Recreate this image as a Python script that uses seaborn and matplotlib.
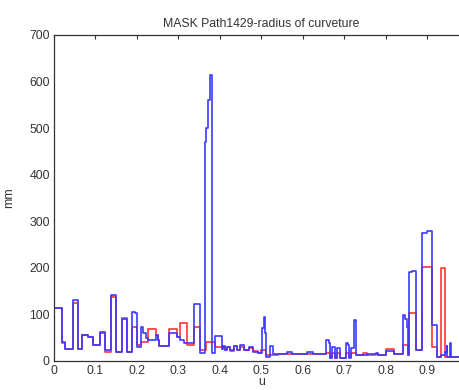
import matplotlib
matplotlib.use("Agg")
import matplotlib.pyplot as plt
import seaborn as sns
import pandas as pd

# breakpoints along the path (u) and the radius values for both curves (step-post)
u = [0.000, 0.020, 0.027, 0.045, 0.057, 0.068, 0.082, 0.095, 0.111, 0.123,
     0.137, 0.149, 0.163, 0.175, 0.187, 0.189, 0.195, 0.200, 0.209, 0.215,
     0.222, 0.227, 0.245, 0.250, 0.252, 0.277, 0.296, 0.304, 0.313, 0.321,
     0.338, 0.352, 0.364, 0.366, 0.370, 0.375, 0.380, 0.388, 0.404, 0.408,
     0.413, 0.418, 0.425, 0.433, 0.441, 0.449, 0.457, 0.469, 0.480, 0.492,
     0.500, 0.502, 0.505, 0.509, 0.512, 0.521, 0.527, 0.540, 0.562, 0.573,
     0.610, 0.624, 0.655, 0.662, 0.665, 0.671, 0.677, 0.683, 0.689, 0.703,
     0.709, 0.712, 0.715, 0.722, 0.724, 0.727, 0.745, 0.755, 0.775, 0.782,
     0.800, 0.820, 0.840, 0.845, 0.850, 0.852, 0.856, 0.864, 0.872, 0.886,
     0.898, 0.910, 0.922, 0.932, 0.942, 0.946, 0.948, 0.954, 0.957, 0.990]

blue = [114, 41, 25, 132, 25, 55, 52, 34, 63, 24,
        142, 20, 90, 20, 20, 106, 102, 29, 72, 60,
        50, 45, 56, 45, 32, 61, 52, 45, 38, 38,
        122, 17, 470, 500, 560, 615, 17, 54, 25, 32,
        24, 31, 24, 32, 24, 35, 24, 30, 20, 17,
        17, 70, 95, 60, 9, 32, 16, 16, 20, 16,
        20, 16, 45, 38, 6, 31, 6, 27, 6, 38,
        35, 6, 28, 70, 89, 12, 12, 14, 18, 12,
        22, 14, 99, 90, 74, 13, 192, 194, 24, 274,
        280, 77, 9, 12, 20, 32, 9, 38, 9, 9]

red = [114, 38, 25, 125, 25, 55, 52, 34, 61, 20,
       138, 20, 92, 20, 74, 74, 74, 35, 40, 40,
       40, 68, 56, 45, 32, 68, 52, 81, 81, 34,
       72, 24, 24, 41, 41, 41, 41, 31, 25, 30,
       24, 31, 22, 32, 24, 30, 24, 27, 22, 17,
       24, 24, 24, 24, 13, 13, 13, 14, 14, 14,
       14, 14, 17, 17, 6, 17, 6, 17, 6, 17,
       17, 8, 17, 17, 17, 12, 18, 12, 14, 12,
       25, 14, 34, 34, 34, 13, 102, 102, 24, 202,
       202, 31, 9, 199, 9, 9, 9, 9, 9, 9]

xticks = [0, 0.1, 0.2, 0.3, 0.4, 0.5, 0.6, 0.7, 0.8, 0.9]
xticklabels = ["0", "0.1", "0.2", "0.3", "0.4", "0.5", "0.6", "0.7", "0.8", "0.9"]

df = pd.DataFrame({"u": u, "blue": blue, "red": red})

sns.set_style("white")
plt.rcParams["font.family"] = ["Liberation Sans", "DejaVu Sans"]

fig = plt.figure(figsize=(4.6, 3.9), dpi=100)
# axes run a little past the right edge, like the cropped original
ax = fig.add_axes([0.1174, 0.0744, 0.902, 0.836])

sns.lineplot(data=df, x="u", y="red", ax=ax, color="#ff3333", linewidth=1.2,
             drawstyle="steps-post", sort=False, estimator=None)
sns.lineplot(data=df, x="u", y="blue", ax=ax, color="#3a3aff", linewidth=1.2,
             drawstyle="steps-post", sort=False, estimator=None)

ax.set_xlim(0, 1)
ax.set_ylim(0, 700)
ax.set_xticks(xticks)
ax.set_xticklabels(xticklabels)
ax.set_yticks(range(0, 701, 100))
ax.tick_params(direction="in", length=3, width=0.8, top=True, right=True,
               labelsize=8.8, colors="#333333", pad=3)
for s in ax.spines.values():
    s.set_color("#333333")
    s.set_linewidth(0.9)

ax.set_title("MASK Path1429-radius of curveture", fontsize=8.8, color="#333333", pad=6)
ax.set_ylabel("mm", fontsize=8.8, color="#333333", labelpad=10)
ax.set_xlabel("u", fontsize=8.8, color="#333333", labelpad=-1)

fig.savefig("out.png", dpi=100)
